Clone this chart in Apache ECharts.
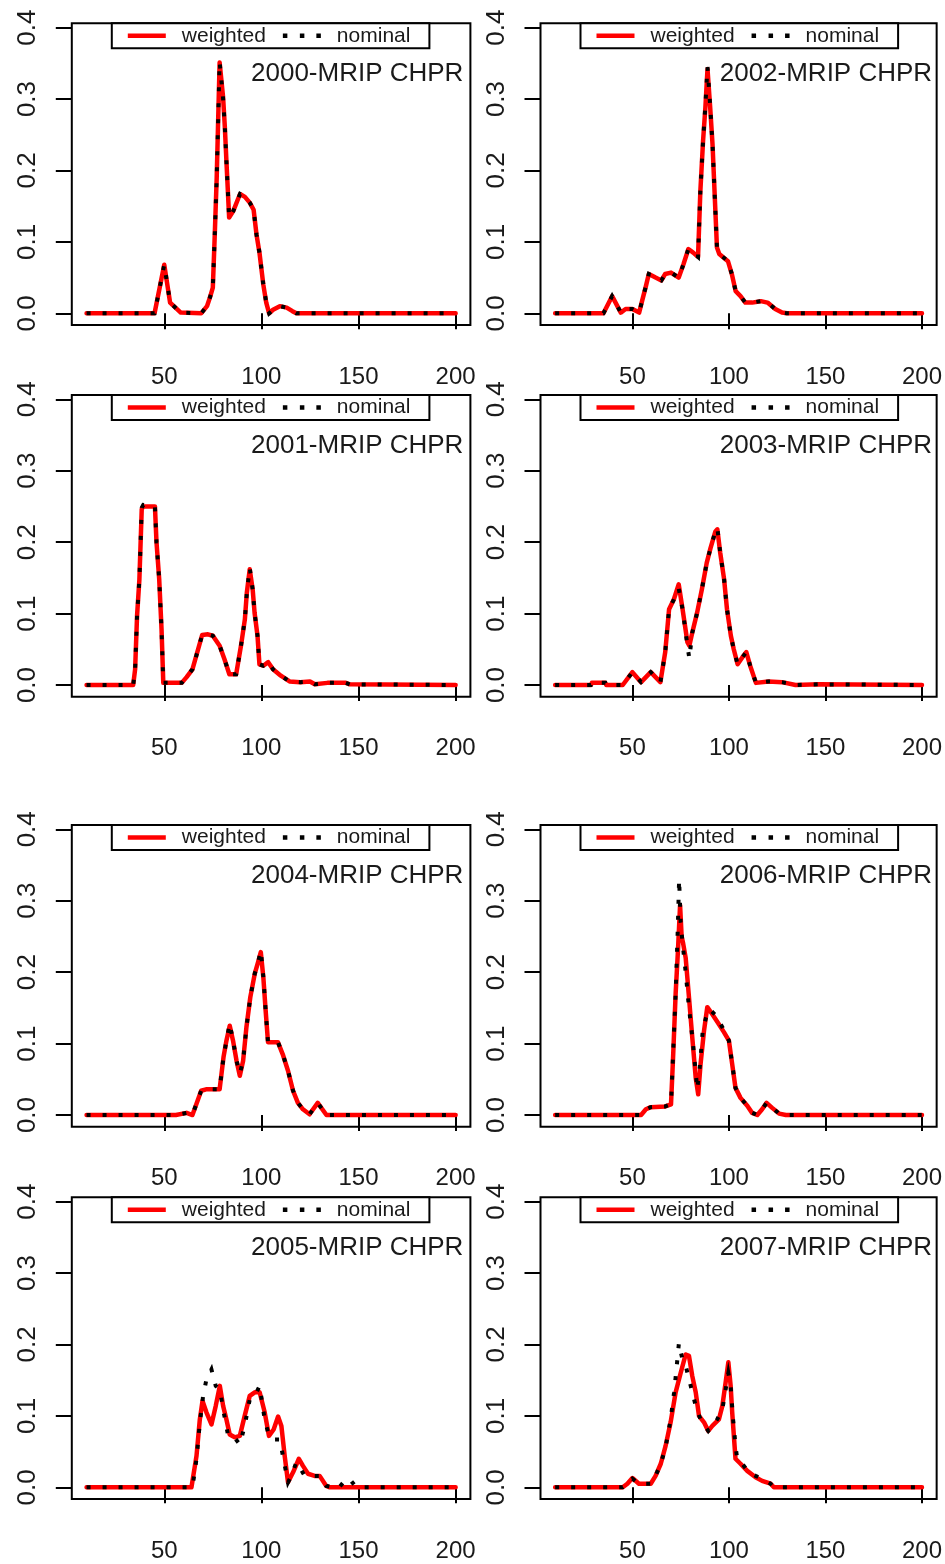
<!DOCTYPE html>
<html>
<head>
<meta charset="utf-8">
<script src="https://cdn.jsdelivr.net/npm/echarts@6/dist/echarts.min.js"></script>
<style>
  html, body { margin: 0; padding: 0; background: #fff; }
  #chart { width: 945px; height: 1564px; }
</style>
</head>
<body>
<div id="chart"></div>
<script>
// ---------------- data ----------------
const xTicks = [50, 100, 150, 200];
const yTicks = [0, 0.1, 0.2, 0.3, 0.4];
const legendNames = ['weighted', 'nominal'];

const x2000 = [10,45,50,53,58.5,69,72,73.5,75,76,77,78.5,80.3,81.2,82,83.4,85.5,89,91.5,94,96,97.5,99,101,102.5,104,106,109.5,113,116,118,126,127,128,200];
const w2000 = [0,0,0.068,0.015,0.001,0,0.01,0.022,0.036,0.11,0.19,0.351,0.302,0.26,0.213,0.134,0.143,0.167,0.163,0.155,0.145,0.11,0.085,0.04,0.015,0,0.005,0.01,0.008,0.003,0,0,0.002,0,0];
const n2000 = [0,0,0.068,0.015,0.001,0,0.01,0.022,0.036,0.11,0.19,0.352,0.300,0.26,0.213,0.134,0.143,0.167,0.163,0.155,0.145,0.11,0.085,0.04,0.015,0,0.005,0.01,0.008,0.003,0,0,0.002,0,0];

const x2002 = [10,35,39.5,44,46.5,50,53.5,55,57,58.5,62,65,67,70,74,76.5,79,81.5,84,85.2,86.6,87.8,88.9,90.3,91.5,93.8,95,99.5,101.5,103.5,106,108.5,112,116.5,120,124,127.5,130,200];
const w2002 = [0,0,0.024,0.001,0.006,0.006,0.001,0.017,0.038,0.055,0.05,0.046,0.055,0.057,0.05,0.069,0.09,0.085,0.079,0.171,0.241,0.288,0.342,0.288,0.237,0.092,0.083,0.073,0.055,0.031,0.024,0.015,0.015,0.017,0.015,0.006,0.001,0,0];
const n2002 = [0,0,0.024,0.001,0.006,0.006,0.001,0.017,0.038,0.055,0.05,0.046,0.055,0.057,0.05,0.069,0.09,0.085,0.079,0.171,0.241,0.29,0.345,0.29,0.237,0.092,0.083,0.073,0.055,0.031,0.024,0.015,0.015,0.017,0.015,0.006,0.001,0,0];

const x2001 = [10,34,35,36,37.2,38.4,39.2,45.2,46,47.4,48.6,49.5,51,59,61.5,64.5,66.5,69.5,72.5,75,78.5,81,83.5,87,89.5,91.5,92.5,94,95.5,96.5,98,99,101,103.5,106,110,114.5,120,125,127.5,134,143.5,145.5,200];
const w2001 = [0,0,0.022,0.097,0.148,0.246,0.25,0.25,0.2,0.148,0.078,0.003,0.003,0.003,0.011,0.022,0.041,0.07,0.071,0.069,0.055,0.036,0.015,0.015,0.055,0.092,0.129,0.162,0.134,0.101,0.069,0.029,0.027,0.032,0.022,0.013,0.005,0.004,0.005,0.001,0.003,0.003,0.001,0];
const n2001 = [0,0,0.022,0.097,0.148,0.248,0.252,0.25,0.2,0.148,0.078,0.003,0.003,0.003,0.011,0.022,0.041,0.07,0.071,0.069,0.055,0.036,0.015,0.015,0.055,0.092,0.129,0.164,0.134,0.101,0.069,0.029,0.027,0.032,0.022,0.013,0.005,0.004,0.005,0.001,0.003,0.003,0.001,0];

const x2003 = [10,28.5,29,36,36.5,45,50,54.5,59.5,64.5,67,69,71.5,74,76,78.5,79.5,81,83.5,86,88.5,90.5,93,94,95.5,97.5,99,101,102.5,104.5,107,109,111,114,120.5,127.5,134.5,146.5,200];
const w2003 = [0,0,0.003,0.003,0,0,0.018,0.004,0.018,0.004,0.046,0.106,0.12,0.141,0.106,0.06,0.055,0.073,0.101,0.134,0.171,0.192,0.215,0.218,0.185,0.148,0.106,0.069,0.05,0.029,0.039,0.046,0.027,0.003,0.005,0.004,0,0.001,0];
const n2003 = [0,0,0.003,0.003,0,0,0.018,0.004,0.018,0.004,0.046,0.106,0.12,0.135,0.106,0.055,0.037,0.073,0.101,0.134,0.171,0.192,0.215,0.22,0.185,0.148,0.106,0.069,0.05,0.029,0.039,0.046,0.027,0.003,0.005,0.004,0,0.001,0];

const x2004 = [10,56,61.5,64.5,66.5,69,71.5,78.5,80.5,82,83.7,85.4,87.2,88.9,90.6,92.3,94.3,96.6,98.3,99.7,101,102.2,103.4,105,108.5,111,113.7,116.3,118.8,121.4,124.8,129,133.5,200];
const w2004 = [0,0,0.003,0,0.015,0.034,0.036,0.036,0.081,0.104,0.125,0.104,0.076,0.055,0.076,0.123,0.165,0.198,0.214,0.228,0.193,0.146,0.102,0.102,0.102,0.085,0.062,0.034,0.017,0.008,0.001,0.017,0,0];
const n2004 = [0,0,0.003,0,0.015,0.034,0.036,0.036,0.081,0.104,0.128,0.104,0.076,0.058,0.076,0.123,0.165,0.198,0.214,0.23,0.193,0.146,0.102,0.102,0.102,0.085,0.062,0.034,0.017,0.008,0.001,0.017,0,0];

const x2006w = [10,54.5,57,59.5,67,70,71,72.4,73.6,74.7,75.5,76.3,77.6,79.3,81,82.8,84.1,85.3,87.1,88.8,91.4,94.8,97.4,100,101.7,103.4,106,109.5,112,114.7,117.2,119.5,122.4,126,129.5,200];
const w2006 = [0,0,0.008,0.011,0.012,0.015,0.076,0.17,0.23,0.294,0.25,0.24,0.22,0.165,0.109,0.052,0.029,0.071,0.118,0.151,0.141,0.127,0.116,0.104,0.071,0.038,0.024,0.013,0.003,0,0.008,0.017,0.01,0.002,0,0];
const x2006n = [10,54.5,57,59.5,67,70,71,72.4,73.5,74.2,75,76,77.6,79.3,81,82.8,83.6,85,86.5,88.5,90,93,96.6,100,101.7,103.4,106,109.5,112,114.7,117.2,119.5,122.4,126,129.5,200];
const n2006 = [0,0,0.008,0.011,0.012,0.015,0.08,0.17,0.26,0.33,0.27,0.24,0.2,0.15,0.11,0.06,0.036,0.07,0.12,0.14,0.148,0.14,0.123,0.104,0.071,0.038,0.024,0.013,0.003,0,0.008,0.017,0.01,0.002,0,0];

const x2005w = [10,64,66.6,68.3,69.7,71.7,74.3,76.5,78.6,80.3,82,83.7,86.3,88.9,91.4,94,96.6,99.1,101.7,103.9,106.3,108.6,110.3,112,113.7,116.3,119.3,121.4,124,127.4,130,133.4,135,200];
const w2005 = [0,0,0.044,0.095,0.121,0.105,0.088,0.114,0.142,0.114,0.095,0.074,0.07,0.072,0.1,0.128,0.133,0.133,0.105,0.072,0.081,0.099,0.086,0.044,0.007,0.021,0.04,0.03,0.019,0.016,0.016,0.002,0,0];
const x2005n = [10,64,65,66.6,68.3,70,71.7,74.3,76.5,78.6,80.6,82.9,85.4,88.9,91.4,94,96.6,99.1,101.7,103.9,106.7,109.4,111.1,113.7,115.4,118,119.7,122.3,127.4,130,133.4,136.8,140.2,142.8,146.2,148.8,200];
const n2005 = [0,0,0.009,0.04,0.09,0.128,0.151,0.165,0.142,0.137,0.105,0.072,0.072,0.06,0.086,0.123,0.128,0.142,0.095,0.072,0.067,0.067,0.044,0.007,0.016,0.035,0.028,0.016,0.016,0.016,0.002,0,0.006,0,0.009,0,0];

const x2007w = [10,45,47.4,50,53.4,59.5,62,64.7,67.2,69.8,72.4,75,77.6,79.3,81,82.8,84.5,87.1,89.3,91.4,94.8,96.6,98.3,99.7,100.9,101.7,103.4,106,109.5,113.8,117.2,121.6,123.3,200];
const w2007 = [0,0,0.005,0.013,0.005,0.005,0.016,0.033,0.058,0.091,0.133,0.16,0.186,0.184,0.156,0.133,0.1,0.091,0.079,0.086,0.095,0.114,0.147,0.175,0.142,0.105,0.04,0.033,0.023,0.014,0.009,0.005,0,0];
const x2007n = [10,45,47.4,50,53.4,59.5,62,64.7,67.2,69.8,71.6,72.8,74.1,75.9,77.9,80.2,82.8,85.3,89.3,93.9,96.6,98.3,99.7,100.9,102,103.4,104.3,106.9,110.3,113.8,117.2,121.6,123.3,200];
const n2007 = [0,0,0.005,0.012,0.005,0.005,0.016,0.033,0.056,0.095,0.133,0.165,0.202,0.179,0.167,0.142,0.114,0.095,0.079,0.095,0.109,0.137,0.16,0.142,0.1,0.058,0.04,0.033,0.021,0.016,0.012,0.005,0,0];

const panelTitles = ['2000-MRIP CHPR','2002-MRIP CHPR','2001-MRIP CHPR','2003-MRIP CHPR','2004-MRIP CHPR','2006-MRIP CHPR','2005-MRIP CHPR','2007-MRIP CHPR'];

// ---------------- layout ----------------
const panels = [
  { title: panelTitles[0], col: 0, row: 0, xw: x2000,  w: w2000, xn: x2000,  n: n2000 },
  { title: panelTitles[1], col: 1, row: 0, xw: x2002,  w: w2002, xn: x2002,  n: n2002 },
  { title: panelTitles[2], col: 0, row: 1, xw: x2001,  w: w2001, xn: x2001,  n: n2001 },
  { title: panelTitles[3], col: 1, row: 1, xw: x2003,  w: w2003, xn: x2003,  n: n2003 },
  { title: panelTitles[4], col: 0, row: 2, xw: x2004,  w: w2004, xn: x2004,  n: n2004 },
  { title: panelTitles[5], col: 1, row: 2, xw: x2006w, w: w2006, xn: x2006n, n: n2006 },
  { title: panelTitles[6], col: 0, row: 3, xw: x2005w, w: w2005, xn: x2005n, n: n2005 },
  { title: panelTitles[7], col: 1, row: 3, xw: x2007w, w: w2007, xn: x2007n, n: n2007 }
];
const rowTops = [23.3, 395, 825, 1197.3];
const colLefts = [71.8, 540.5];
const boxW = 398.6, boxH = 301.8;
const FONT = '"Liberation Sans", Arial, sans-serif';
const TXT = '#1a1a1a';
const ICON_SOLID = 'path://M0,0h38v4.5h-38z';
const ICON_DOTS = 'path://M0,0h4.5v4.5h-4.5z M17,0h4.5v4.5h-4.5z M33.5,0h4.5v4.5h-4.5z';

function zip(xs, ys) { return xs.map((x, i) => [x, ys[i]]); }

const grid = [], xAxis = [], yAxis = [], series = [], legend = [], title = [];
panels.forEach((p, i) => {
  const left = colLefts[p.col], top = rowTops[p.row];
  grid.push({ left: left, top: top, width: boxW, height: boxH, show: true,
    borderColor: '#000', borderWidth: 2, backgroundColor: 'rgba(0,0,0,0)' });
  xAxis.push({ type: 'value', gridIndex: i, min: 2.4, max: 207.6,
    axisLine: { show: false }, splitLine: { show: false },
    axisTick: { show: true, length: 16, lineStyle: { color: '#000', width: 2 }, customValues: xTicks },
    axisLabel: { customValues: xTicks, margin: 40, fontSize: 24, color: TXT, fontFamily: FONT } });
  yAxis.push({ type: 'value', gridIndex: i, min: -0.0165, max: 0.406,
    axisLine: { show: false }, splitLine: { show: false },
    axisTick: { show: true, length: 16, lineStyle: { color: '#000', width: 2 }, customValues: yTicks },
    axisLabel: { customValues: yTicks, rotate: 90, align: 'center', verticalAlign: 'bottom',
      margin: 31, fontSize: 26, color: TXT, fontFamily: FONT,
      formatter: v => Number(v).toFixed(1) } });
  series.push({ type: 'line', name: 'weighted', xAxisIndex: i, yAxisIndex: i,
    data: zip(p.xw, p.w), symbol: 'none', showSymbol: false, z: 2,
    itemStyle: { color: '#ff0000' },
    lineStyle: { color: '#ff0000', width: 4.5, cap: 'round', join: 'round' } });
  series.push({ type: 'line', name: 'nominal', xAxisIndex: i, yAxisIndex: i,
    data: zip(p.xn, p.n), symbol: 'none', showSymbol: false, z: 3,
    itemStyle: { color: '#000' },
    lineStyle: { color: '#000', width: 4, type: [4, 12], cap: 'butt', join: 'miter' } });
  legend.push({
    data: [{ name: legendNames[0], icon: ICON_SOLID }, { name: legendNames[1], icon: ICON_DOTS }],
    left: left + 40, top: top, orient: 'horizontal',
    padding: [2, 19, 2, 16], itemWidth: 38, itemHeight: 4.5, itemGap: 17,
    borderColor: '#000', borderWidth: 2, borderRadius: 0, selectedMode: false,
    backgroundColor: '#fff',
    itemStyle: { borderWidth: 0 }, lineStyle: { width: 0 },
    textStyle: { fontSize: 21, color: TXT, fontFamily: FONT, lineHeight: 20, padding: [0, 0, 0, 11] } });
  title.push({ text: p.title, right: 945 - (left + boxW - 7), top: top + 38, padding: 0,
    textStyle: { fontSize: 26, fontWeight: 'normal', color: TXT, fontFamily: FONT, lineHeight: 26 } });
});

const chart = echarts.init(document.getElementById('chart'), null, { renderer: 'canvas' });
chart.setOption({ animation: false, backgroundColor: '#fff', grid, xAxis, yAxis, series, legend, title });
</script>
</body>
</html>
